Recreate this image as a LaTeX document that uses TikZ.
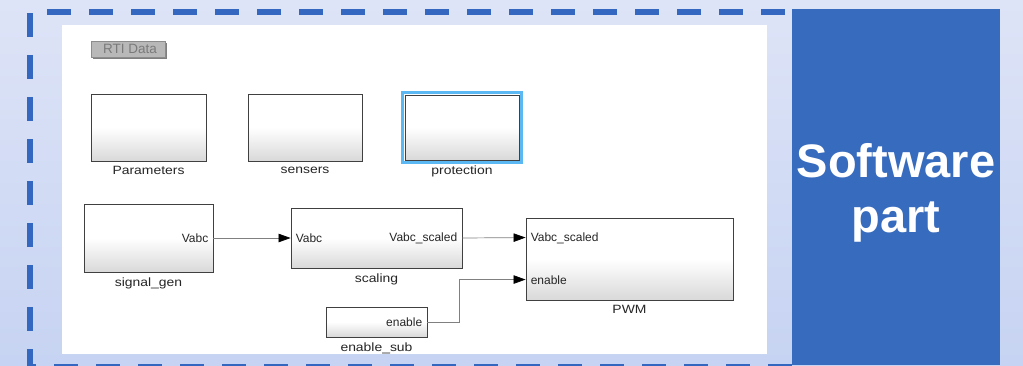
\documentclass[tikz,border=0pt]{standalone}
\usepackage{fontspec}
\setmainfont{Liberation Sans}
\newfontfamily\lblfont[FakeStretch=1.16]{Liberation Sans}
\usetikzlibrary{arrows.meta,shadows,calc}
\definecolor{bgtop}{RGB}{222,228,247}
\definecolor{bgbot}{RGB}{198,211,242}
\definecolor{dashblue}{RGB}{52,104,192}
\definecolor{boxblue}{RGB}{55,107,190}
\definecolor{hilite}{RGB}{92,184,242}
\begin{document}
\begin{tikzpicture}[x=1pt,y=-1pt,
  block/.style={draw=black!75,line width=0.9pt,top color=white,bottom color=black!15,
    middle color=white,
    drop shadow={shadow xshift=1.2pt,shadow yshift=-1.2pt,opacity=0.35,fill=black},
    inner sep=0pt},
  lbl/.style={font=\lblfont\fontsize{12}{14}\selectfont,text=black!85,inner sep=0pt},
  port/.style={font=\fontsize{12}{14}\selectfont,text=black!85,inner sep=0pt},
  conn/.style={draw=black!50,line width=0.7pt,-{Triangle[length=12pt,width=8.5pt,fill=black,color=black]}},
  dashline/.style={draw=dashblue,line width=5.5pt,dash pattern=on 24pt off 18pt}
]
\useasboundingbox (0,0) rectangle (1023,365);
% background
\shade[top color=bgtop,bottom color=bgbot] (0,0) rectangle (1023,365);
% white panel
\fill[white] (62,25) rectangle (767,354);
% dashed frame
\draw[dashline] (47,12) -- (786,12);
\draw[dashline] (30,13) -- (30,367) -- (792,367);
% blue box
\fill[boxblue] (792,9) rectangle (1000,365);
\node[text=white,font=\bfseries\fontsize{47}{55}\selectfont,align=center] (sw) at (896,193) {Software\\part};
% RTI Data
\node[draw=black!45,fill=black!28,line width=0.8pt,minimum width=74pt,minimum height=16pt,inner sep=0pt,
  drop shadow={shadow xshift=1.5pt,shadow yshift=-1.5pt,opacity=0.5,fill=black},
  font=\fontsize{13.5}{14}\selectfont,text=black!52] (rti) at (128,49) {\hspace{4pt}RTI Data};
% top row blocks
\node[block,minimum width=115pt,minimum height=67pt] (par) at (148.5,127.5) {};
\node[lbl,anchor=north] (parl) at ($(par.south)+(0,5)$) {Parameters};
\node[block,minimum width=114pt,minimum height=67pt] (sen) at (305,127.5) {};
\node[lbl,anchor=north] (senl) at ($(sen.south)+(0,5)$) {sensers};
\node[draw=hilite,line width=3pt,minimum width=119pt,minimum height=70pt,inner sep=0pt] (prohl) at (462,127.5) {};
\node[block,minimum width=114pt,minimum height=65pt] (pro) at (462,127.5) {};
\node[lbl,anchor=north] (prol) at ($(pro.south)+(0,5)$) {protection};
% bottom row blocks
\node[block,minimum width=129pt,minimum height=68pt] (sg) at (148.5,238) {};
\node[lbl,anchor=north] (sgl) at ($(sg.south)+(0,5)$) {signal\_gen};
\node[port,anchor=east] (sgo) at ($(sg.east)+(-5,0)$) {Vabc};
\node[block,minimum width=171pt,minimum height=60pt] (sc) at (376.5,238) {};
\node[lbl,anchor=north] (scl) at ($(sc.south)+(0,5)$) {scaling};
\node[port,anchor=west] (sci) at ($(sc.west)+(5,0)$) {Vabc};
\node[port,anchor=east] (sco) at ($(sc.east)+(-5,0)$) {Vabc\_scaled};
\node[block,minimum width=101pt,minimum height=30pt] (es) at (376.5,322) {};
\node[lbl,anchor=north] (esl) at ($(es.south)+(0,5)$) {enable\_sub};
\node[port,anchor=east] (eso) at ($(es.east)+(-5,0)$) {enable};
\node[block,minimum width=207pt,minimum height=82pt] (pwm) at (629.5,259) {};
\node[lbl,anchor=north] (pwml) at ($(pwm.south)+(0,5)$) {PWM};
\coordinate (pwmA) at ($(pwm.north west)+(0,20)$);
\coordinate (pwmB) at ($(pwm.north west)+(0,62)$);
\node[port,anchor=west] (pwmAl) at ($(pwmA)+(5,1)$) {Vabc\_scaled};
\node[port,anchor=west] (pwmBl) at ($(pwmB)+(5,1)$) {enable};
% connectors
\draw[conn] (sg.east) -- (sc.west);
\draw[conn] (sc.east) -- (pwmA);
\coordinate (bend) at ($(pwmB)+(-66,0)$);
\draw[conn] (es.east) -| (bend) -- (pwmB);
\end{tikzpicture}
\end{document}
